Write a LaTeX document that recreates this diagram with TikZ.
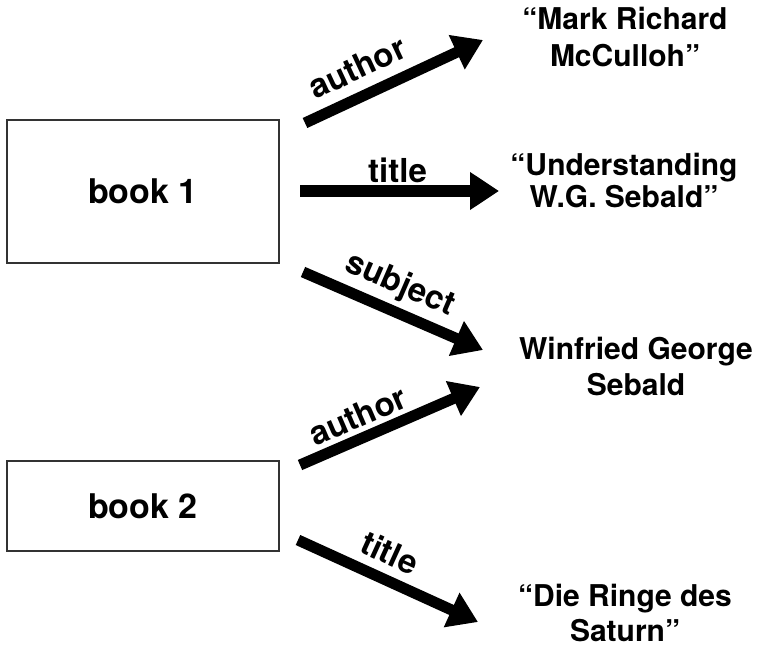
\documentclass[tikz,border=0pt]{standalone}
\usepackage{fontspec}
\setmainfont{TeX Gyre Heros}
\usetikzlibrary{arrows.meta}
\begin{document}
\begin{tikzpicture}[x=1pt,y=-1pt,
  box/.style={draw=black!80, line width=1.4pt, inner sep=0pt, font=\fontsize{34}{40}\selectfont\bfseries},
  tgt/.style={inner sep=0pt, anchor=base},
  arr/.style={line width=11pt, -{Triangle[length=29pt,width=36pt]}},
  lbl/.style={inner sep=0pt, text depth=0pt, font=\fontsize{33}{38}\selectfont\bfseries}]
\useasboundingbox (0,0) rectangle (757,647);
\node[box, minimum width=272pt, minimum height=143pt] (b1) at (143,191.5) {book 1};
\node[box, minimum width=272pt, minimum height=90pt] (b2) at (143,506) {book 2};
\node[tgt] (mark) at (625,30) {\fontsize{30}{37}\selectfont\bfseries\begin{tabular}[t]{@{}c@{}}“Mark Richard\\McCulloh”\end{tabular}};
\node[tgt] (und) at (624,176) {\fontsize{30}{30}\selectfont\bfseries\begin{tabular}[t]{@{}c@{}}“Understanding\\W.G. Sebald”\end{tabular}};
\node[tgt] (wgs) at (636,359) {\fontsize{30}{36}\selectfont\bfseries\begin{tabular}[t]{@{}c@{}}Winfried George\\Sebald\end{tabular}};
\node[tgt] (ring) at (625,606) {\fontsize{30}{35}\selectfont\bfseries\begin{tabular}[t]{@{}c@{}}“Die Ringe des\\Saturn”\end{tabular}};
\coordinate (a1s) at (305,123); \coordinate (a1e) at (483,40);
\coordinate (t1s) at (300,191); \coordinate (t1e) at (499,191);
\coordinate (s1s) at (303,272); \coordinate (s1e) at (483,350);
\coordinate (a2s) at (300,465); \coordinate (a2e) at (480,387);
\coordinate (t2s) at (298,540); \coordinate (t2e) at (478,622);
\draw[arr] (a1s) -- (a1e) node[lbl, sloped, pos=.36, above=11pt] {author};
\draw[arr] (t1s) -- (t1e) node[lbl, sloped, pos=.49, above=3pt] {title};
\draw[arr] (s1s) -- (s1e) node[lbl, sloped, pos=.48, above=12pt] {subject};
\draw[arr] (a2s) -- (a2e) node[lbl, sloped, pos=.37, above=5pt] {author};
\draw[arr] (t2s) -- (t2e) node[lbl, sloped, pos=.45, above=9pt] {title};
\end{tikzpicture}
\end{document}
